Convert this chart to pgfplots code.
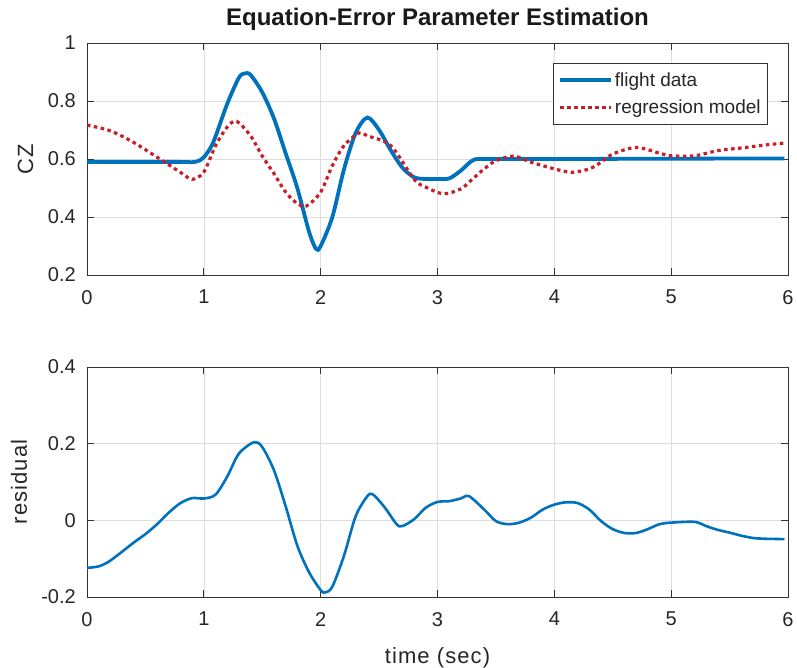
\documentclass[border=0pt]{standalone}
\usepackage{fontspec}
\setmainfont{Liberation Sans}
\newfontfamily\labelfont[LetterSpace=5]{Liberation Sans}
\usepackage{pgfplots}
\pgfplotsset{compat=1.18}

\definecolor{mblue}{RGB}{0,114,189}
\definecolor{mred}{RGB}{200,30,40}

\pgfplotsset{
  mstyle/.style={
    scale only axis, width=701pt,
    xmin=0, xmax=6, xtick={0,1,...,6},
    grid=major,
    major grid style={black!13, line width=0.6pt},
    axis line style={black!80, line width=0.8pt},
    tick style={black!80, line width=0.8pt},
    tick align=inside, major tick length=7pt,
    ticklabel style={font=\fontsize{20}{22}\selectfont, text=black!85},
    xticklabel style={anchor=north, inner sep=0pt, yshift=-15pt},
    yticklabel style={anchor=east, inner sep=0pt, xshift=-11pt},
    /pgf/number format/assume math mode=true,
    label style={font=\labelfont\fontsize{22}{24}\selectfont, text=black!85},
  }
}

\pgfplotstableread{
t      cz
0.00   0.590
0.50   0.590
0.80   0.590
0.90   0.589
0.95   0.593
1.00   0.606
1.08   0.657
1.20   0.790
1.30   0.880
1.35   0.895
1.40   0.890
1.50   0.830
1.60   0.740
1.70   0.620
1.80   0.500
1.90   0.350
1.96   0.290
2.00   0.300
2.10   0.400
2.20   0.565
2.30   0.690
2.40   0.743
2.50   0.700
2.60   0.630
2.70   0.570
2.80   0.537
2.90   0.531
3.00   0.531
3.10   0.533
3.20   0.560
3.30   0.595
3.40   0.600
4.00   0.600
5.00   0.601
5.97   0.602
}\flight

\pgfplotstableread{
t      cz
0.00   0.717
0.20   0.697
0.40   0.657
0.60   0.606
0.80   0.554
0.90   0.530
1.00   0.555
1.10   0.646
1.20   0.710
1.28   0.730
1.40   0.680
1.50   0.610
1.60   0.550
1.70   0.486
1.80   0.446
1.88   0.438
2.00   0.486
2.10   0.577
2.20   0.646
2.33   0.690
2.40   0.680
2.60   0.646
2.80   0.530
2.90   0.503
3.05   0.480
3.20   0.497
3.30   0.531
3.40   0.566
3.50   0.594
3.65   0.610
3.80   0.589
4.00   0.566
4.15   0.554
4.30   0.566
4.40   0.589
4.50   0.617
4.70   0.640
4.90   0.620
5.00   0.611
5.20   0.611
5.40   0.629
5.60   0.638
5.80   0.648
5.97   0.655
}\model

\pgfplotstableread{
t      r
0.00  -0.124
0.10  -0.120
0.20  -0.105
0.40  -0.058
0.50  -0.036
0.60  -0.010
0.70   0.020
0.80   0.045
0.90   0.058
1.00   0.057
1.10   0.067
1.20   0.114
1.30   0.174
1.43   0.204
1.50   0.191
1.60   0.131
1.70   0.037
1.80  -0.066
1.90  -0.135
2.00  -0.182
2.04  -0.188
2.10  -0.173
2.20  -0.092
2.30   0.011
2.40   0.063
2.45   0.067
2.55   0.033
2.65  -0.010
2.70  -0.015
2.80   0.003
2.90   0.033
3.00   0.048
3.10   0.050
3.20   0.057
3.27   0.063
3.40   0.028
3.50  -0.002
3.60  -0.010
3.70  -0.006
3.80   0.007
3.90   0.028
4.00   0.041
4.10   0.047
4.20   0.045
4.30   0.028
4.40  -0.002
4.50  -0.023
4.60  -0.033
4.70  -0.033
4.80  -0.023
4.90  -0.010
5.00  -0.006
5.20  -0.004
5.30  -0.015
5.40  -0.025
5.50  -0.032
5.60  -0.040
5.70  -0.046
5.80  -0.048
5.97  -0.049
}\resid

\begin{document}
\begin{tikzpicture}
\useasboundingbox (-87pt,-393pt) rectangle (710pt,275pt);

% upper panel: CZ time histories
\begin{axis}[mstyle,
  at={(0pt,0pt)}, anchor=south west,
  height=232pt,
  ymin=0.2, ymax=1, ytick={0.2,0.4,0.6,0.8,1},
  yticklabel style={/pgf/number format/fixed, /pgf/number format/precision=1},
  ylabel={CZ},
  ylabel style={at={(axis description cs:-0.077,0.5)}, anchor=base},
  title={Equation-Error Parameter Estimation},
  title style={at={(axis description cs:0.5,1)}, anchor=base, yshift=11pt,
    font=\bfseries\fontsize{24}{26}\selectfont, text=black!90},
  legend style={at={(axis description cs:0.9715,0.9138)}, anchor=north east,
    draw=black!80, line width=0.7pt, fill=white,
    font=\fontsize{19}{21}\selectfont, text=black!85,
    inner xsep=5pt, inner ysep=7pt, row sep=8pt},
  legend cell align=left,
  legend image code/.code={\draw[#1] (0pt,0pt) -- (51pt,0pt);},
]
\addplot[mblue, line width=3.8pt, smooth] table[x=t, y=cz] {\flight};
\addlegendentry{flight data}
\addplot[mred, line width=3.2pt, dash pattern=on 3.5pt off 3.5pt, smooth] table[x=t, y=cz] {\model};
\addlegendentry{regression model}
\end{axis}

% lower panel: residual
\begin{axis}[mstyle,
  at={(0pt,-322pt)}, anchor=south west,
  height=230pt,
  ymin=-0.2, ymax=0.4, ytick={-0.2,0,0.2,0.4},
  yticklabel style={/pgf/number format/fixed, /pgf/number format/precision=1},
  ylabel={residual},
  ylabel style={at={(axis description cs:-0.0856,0.5)}, anchor=base},
  xlabel={time (sec)},
  xlabel style={at={(axis description cs:0.5,-0.287)}, anchor=base},
]
\addplot[mblue, line width=2.6pt, smooth] table[x=t, y=r] {\resid};
\end{axis}
\end{tikzpicture}
\end{document}
